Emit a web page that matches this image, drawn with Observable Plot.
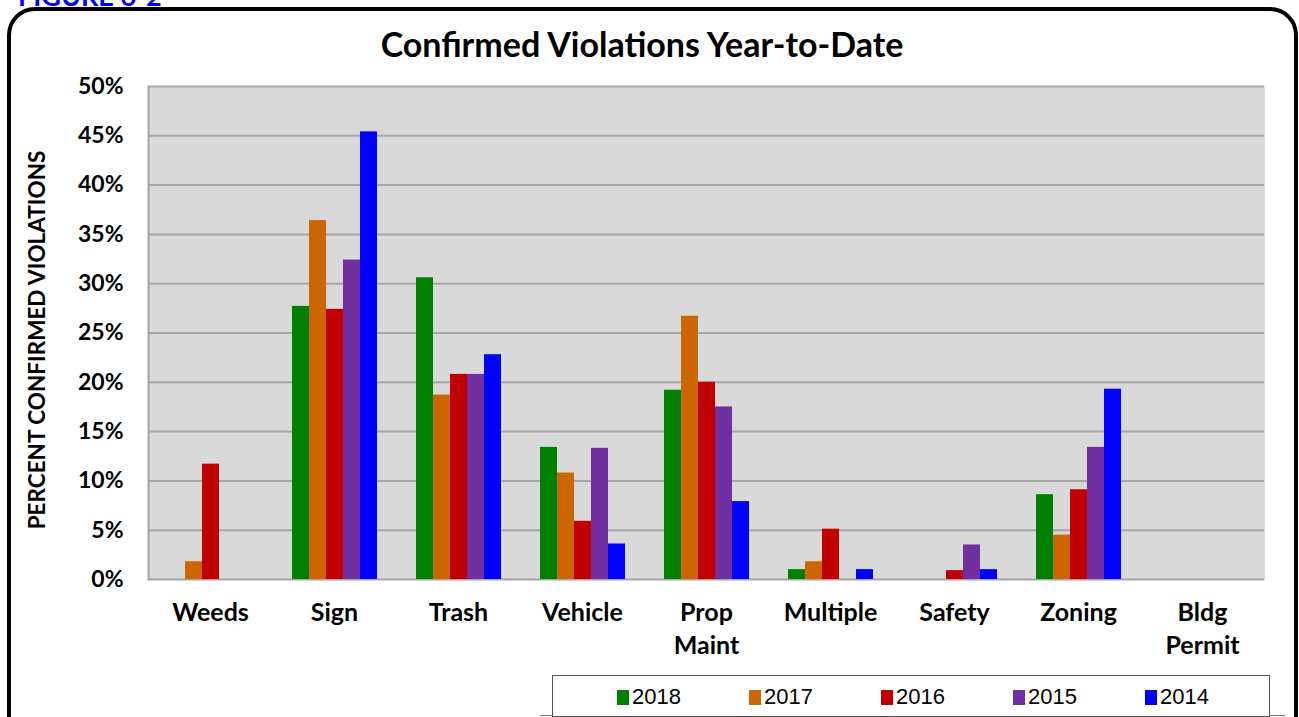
<!DOCTYPE html>
<html>
<head>
<meta charset="utf-8">
<script src="https://cdn.jsdelivr.net/npm/d3@7"></script>
<script src="https://cdn.jsdelivr.net/npm/@observablehq/plot@0.6"></script>
<style>
  html, body { margin: 0; padding: 0; background: #fff; }
  #wrap { position: relative; width: 1299px; height: 717px; overflow: hidden; font-family: Lato, "Open Sans", sans-serif; }
  #fig { position: absolute; left: 18px; top: -21px; font: bold 27px Lato, sans-serif; color: #0000ff; }
  #border { position: absolute; left: 7px; top: 7px; width: 1291px; height: 780px; border: 4px solid #000; border-radius: 28px; box-sizing: border-box; }
  #title { position: absolute; left: 0; width: 1284px; top: 23px; text-align: center; font: bold 34px Lato, sans-serif; color: #000; }
  #ylabel { position: absolute; left: 36px; top: 340px; transform: translate(-50%, -50%) rotate(-90deg); white-space: nowrap; font: bold 22.5px Lato, sans-serif; color: #000; }
  #chart { position: absolute; left: 0; top: 0; }
  #legend { position: absolute; left: 552px; top: 675px; width: 718px; height: 42px; border: 1.5px solid #555; box-sizing: border-box; background: #fff; }
  #baseline { position: absolute; left: 540px; top: 715px; width: 745px; height: 0; border-top: 1.5px solid #777; }
  .item { position: absolute; top: 8px; display: flex; align-items: center; font: 22px "Liberation Sans", sans-serif; color: #000; }
  .sw { width: 12px; height: 15px; margin-right: 3px; }
</style>
</head>
<body>
<div id="wrap">
  <div id="fig">FIGURE 6-2</div>
  <div id="border"></div>
  <div id="title">Confirmed Violations Year-to-Date</div>
  <div id="chart"></div>
  <div id="ylabel">PERCENT CONFIRMED VIOLATIONS</div>
  <div id="baseline"></div>
  <div id="legend"></div>
</div>
<script>
const categories = ["Weeds", "Sign", "Trash", "Vehicle", "Prop Maint", "Multiple", "Safety", "Zoning", "Bldg Permit"];
const years = ["2018", "2017", "2016", "2015", "2014"];
const v2018 = [0, 27.7, 30.6, 13.4, 19.2, 1.0, 0, 8.6, 0];
const v2017 = [1.8, 36.4, 18.7, 10.8, 26.7, 1.8, 0, 4.5, 0];
const v2016 = [11.7, 27.4, 20.8, 5.9, 20.0, 5.1, 0.9, 9.1, 0];
const v2015 = [0, 32.4, 20.8, 13.3, 17.5, 0, 3.5, 13.4, 0];
const v2014 = [0, 45.4, 22.8, 3.6, 7.9, 1.0, 1.0, 19.3, 0];
const yTicks = [0, 5, 10, 15, 20, 25, 30, 35, 40, 45, 50];
const colors = ["#008000", "#CC6600", "#C00000", "#7030A0", "#0000FF"];

const series = [v2018, v2017, v2016, v2015, v2014];
const data = [];
years.forEach((yr, i) => categories.forEach((c, j) => data.push({category: c, year: yr, value: series[i][j]})));

const chart = Plot.plot({
  width: 1299,
  height: 670,
  marginLeft: 145,
  marginRight: 33,
  marginTop: 86,
  marginBottom: 91,
  style: {fontFamily: "Lato, sans-serif", fontWeight: "bold", color: "#000", background: "transparent", overflow: "visible"},
  fx: {domain: categories, padding: 0, label: null},
  x: {domain: years, paddingInner: 0, paddingOuter: 1.04, axis: null},
  y: {domain: [0, 50], label: null},
  color: {domain: years, range: colors},
  marks: [
    Plot.frame({fill: "#d9d9d9", shapeRendering: "crispEdges"}),
    Plot.gridY(yTicks, {stroke: "#a6a6a6", strokeOpacity: 1, strokeWidth: 2}),
    Plot.frame({anchor: "left", stroke: "#a6a6a6", strokeWidth: 2, facet: "super"}),
    Plot.barY(data, {fx: "category", x: "year", y: "value", fill: "year"}),
    Plot.axisY(yTicks, {tickSize: 0, tickPadding: 25, fontSize: 23, fontWeight: "bold", tickFormat: d => d + "%", label: null}),
    Plot.axisFx({anchor: "bottom", tickSize: 0, tickPadding: 18, fontSize: 25, fontWeight: "bold", lineHeight: 1.32, tickFormat: d => d.replace(" ", "\n"), label: null})
  ]
});
document.getElementById("chart").appendChild(chart);

const legend = document.getElementById("legend");
years.forEach((yr, i) => {
  const it = document.createElement("div");
  it.className = "item";
  it.style.left = (64 + i * 132) + "px";
  it.innerHTML = `<div class="sw" style="background:${colors[i]}"></div><span>${yr}</span>`;
  legend.appendChild(it);
});
</script>
</body>
</html>
